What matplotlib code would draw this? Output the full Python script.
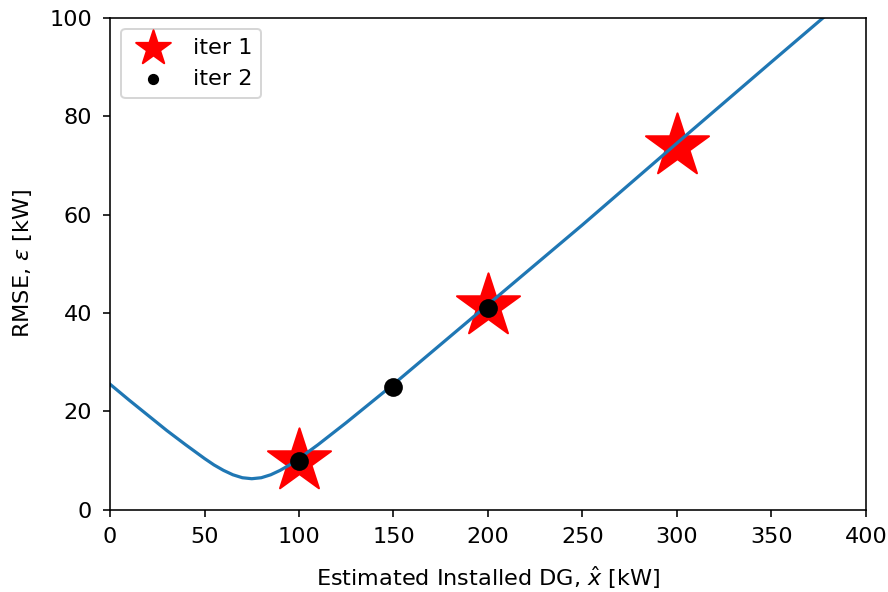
import matplotlib
matplotlib.use('Agg')
import matplotlib.pyplot as plt

plt.rcParams['font.size'] = 11.2
plt.rcParams['xtick.major.pad'] = 5
plt.rcParams['ytick.major.pad'] = 5.5

# RMSE curve
curve_x = [0, 10, 20, 30, 40, 50, 55, 60, 65, 70, 75, 80, 85, 90, 95, 100,
           110, 125, 150, 175, 200, 250, 300, 350, 400]
curve_y = [25.5, 22.3, 19.2, 16.1, 13.2, 10.4, 9.1, 8.0, 7.1, 6.5, 6.3, 6.5,
           7.1, 8.0, 9.1, 10.4, 13.2, 17.7, 25.5, 33.6, 41.7, 57.9, 74.5,
           91.0, 107.4]

# iteration samples
iter1_x = [100, 200, 300]
iter1_y = [10, 41.5, 74]
iter2_x = [100, 150, 200]
iter2_y = [10, 25, 41]

fig = plt.figure(figsize=(888 / 144, 592 / 144), dpi=144)
ax = fig.add_axes([0.124, 0.139, 0.851, 0.831])

ax.scatter(iter1_x, iter1_y, marker='*', s=1100, color='red', label='iter 1', zorder=1)
ax.plot(curve_x, curve_y, color='tab:blue', lw=1.6, zorder=2)
ax.scatter(iter2_x, iter2_y, marker='o', s=70, color='black', label='iter 2', zorder=3)

ax.set_xlim(0, 400)
ax.set_ylim(0, 100)
ax.set_xlabel(r'Estimated Installed DG, $\hat{x}$ [kW]', labelpad=8.5)
ax.set_ylabel(r'RMSE, $\epsilon$ [kW]', labelpad=7.5)
ax.legend(loc='upper left', markerscale=0.55)

fig.savefig('out.png', dpi=144)
